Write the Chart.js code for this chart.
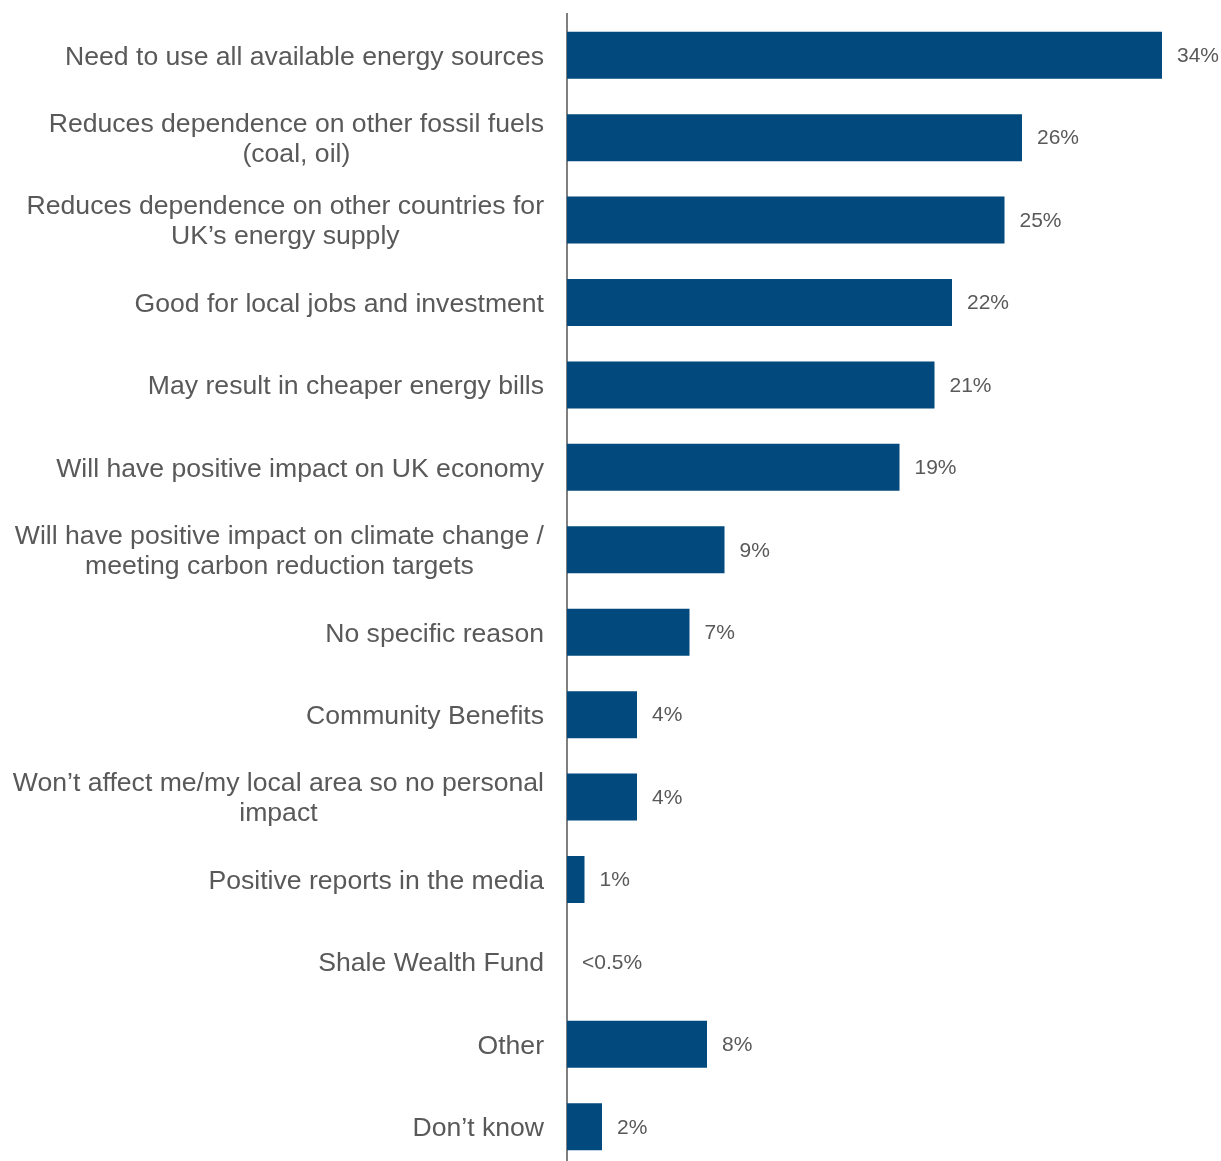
<!DOCTYPE html>
<html>
<head>
<meta charset="utf-8">
<script src="https://cdn.jsdelivr.net/npm/chart.js@4/dist/chart.umd.min.js"></script>
<style>
    body { margin: 0; background: #fff; overflow: hidden; }
    #wrap { width: 1221px; height: 1172px; }
</style>
</head>
<body>
<div id="wrap"><canvas id="myChart"></canvas></div>
<script>
const categories = [
    ['Need to use all available energy sources'],
    ['Reduces dependence on other fossil fuels', '(coal, oil)'],
    ['Reduces dependence on other countries for', 'UK\u2019s energy supply'],
    ['Good for local jobs and investment'],
    ['May result in cheaper energy bills'],
    ['Will have positive impact on UK economy'],
    ['Will have positive impact on climate change /', 'meeting carbon reduction targets'],
    ['No specific reason'],
    ['Community Benefits'],
    ['Won\u2019t affect me/my local area so no personal', 'impact'],
    ['Positive reports in the media'],
    ['Shale Wealth Fund'],
    ['Other'],
    ['Don\u2019t know']
];
const values = [34, 26, 25, 22, 21, 19, 9, 7, 4, 4, 1, 0, 8, 2];
const valueLabels = ['34%', '26%', '25%', '22%', '21%', '19%', '9%', '7%', '4%', '4%', '1%', '<0.5%', '8%', '2%'];

const textColor = '#595959';
const fontFamily = '"Liberation Sans", Arial, sans-serif';

// category names (centred lines, right edge fixed) and value labels
const labelPlugin = {
    id: 'labels',
    afterDraw(chart) {
        const ctx = chart.ctx;
        const yScale = chart.scales.y;
        const xScale = chart.scales.x;
        ctx.save();
        ctx.fillStyle = textColor;
        ctx.textBaseline = 'middle';

        ctx.font = '26.6px ' + fontFamily;
        ctx.textAlign = 'center';
        const rightEdge = 544;
        const lineHeight = 30;
        categories.forEach((lines, i) => {
            const y = yScale.getPixelForValue(i) + 2;
            const maxW = Math.max(...lines.map(l => ctx.measureText(l).width));
            const cx = rightEdge - maxW / 2;
            const top = y - (lines.length - 1) * lineHeight / 2;
            lines.forEach((l, j) => ctx.fillText(l, cx, top + j * lineHeight));
        });

        ctx.font = '21px ' + fontFamily;
        ctx.textAlign = 'left';
        values.forEach((v, i) => {
            const x = xScale.getPixelForValue(v) + 15;
            const y = yScale.getPixelForValue(i) + 1;
            ctx.fillText(valueLabels[i], x, y);
        });
        ctx.restore();
    }
};

const config = {
    type: 'bar',
    data: {
        labels: categories,
        datasets: [{
            data: values,
            backgroundColor: '#02497d',
            borderWidth: 0,
            barPercentage: 0.57,
            categoryPercentage: 1
        }]
    },
    options: {
        indexAxis: 'y',
        responsive: true,
        maintainAspectRatio: false,
        animation: false,
        layout: {
            padding: { left: 0, right: 24, top: 14, bottom: 4 }
        },
        scales: {
            x: {
                display: false,
                min: 0,
                max: 36
            },
            y: {
                grid: { display: false },
                border: { display: true, color: '#7f7f7f', width: 2 },
                ticks: { display: false },
                afterFit(scale) {
                    scale.width = 567;
                }
            }
        },
        plugins: {
            legend: { display: false },
            tooltip: { enabled: false }
        }
    },
    plugins: [labelPlugin]
};

new Chart(document.getElementById('myChart'), config);
</script>
</body>
</html>
